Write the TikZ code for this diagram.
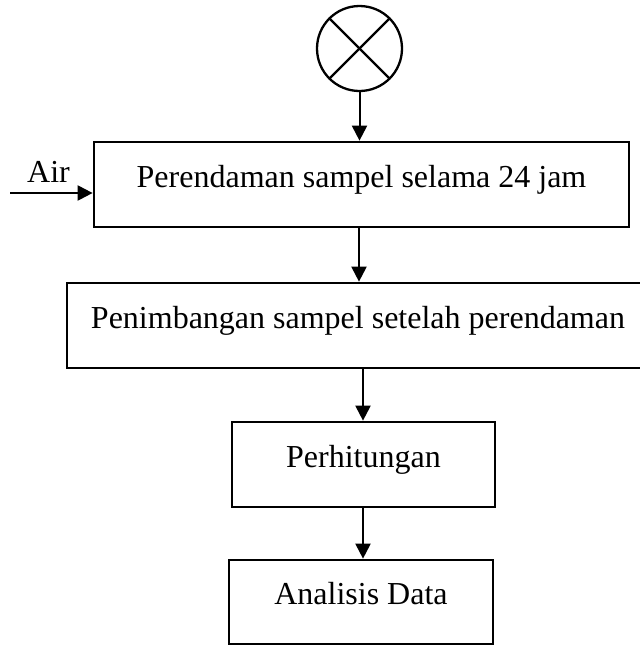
\documentclass[tikz,border=0pt]{standalone}
\usepackage{fontspec}
\setmainfont{Liberation Serif}
\usetikzlibrary{arrows.meta}
\begin{document}
\begin{tikzpicture}[x=1pt,y=-1pt,
  stepbox/.style={draw=black, line width=2.7pt, rectangle, inner sep=0pt,
    font=\fontsize{32}{38}\selectfont, text height=22pt, text depth=17pt},
  flow/.style={draw=black, line width=2pt, -{Triangle[length=15pt,width=15pt]}},
  lbl/.style={font=\fontsize{32}{38}\selectfont, inner sep=0pt, anchor=base}
]
\useasboundingbox (0,0) rectangle (640,646);
\node[draw=black, line width=2.3pt, circle, minimum size=85pt, inner sep=0pt] (start) at (359.5,48.5) {};
\draw[line width=2.3pt] (start.45) -- (start.225);
\draw[line width=2.3pt] (start.135) -- (start.315);

\node[stepbox, minimum width=535pt, minimum height=85pt] (b1) at (361.5,184.5) {Perendaman sampel selama 24 jam};
\node[stepbox, minimum width=575pt, minimum height=85pt] (b2) at (354.5,325.5) {\hspace{7pt}Penimbangan sampel setelah perendaman};
\node[stepbox, minimum width=263pt, minimum height=85pt] (b3) at (363.5,464.5) {Perhitungan};
\node[stepbox, minimum width=264pt, minimum height=84pt] (b4) at (361,602) {Analisis Data};

\node[lbl] (air) at (48.5,182) {Air};
\coordinate (airin) at (10,193);

\draw[flow] (start.south) -- (start.south |- b1.north);
\draw[flow] (359,227) coordinate (a2) -- (a2 |- b2.north);
\draw[flow] (363,368) coordinate (a3) -- (a3 |- b3.north);
\draw[flow] (363,507) coordinate (a4) -- (a4 |- b4.north);
\draw[flow] (airin) -- (airin -| b1.west);
\end{tikzpicture}
\end{document}
